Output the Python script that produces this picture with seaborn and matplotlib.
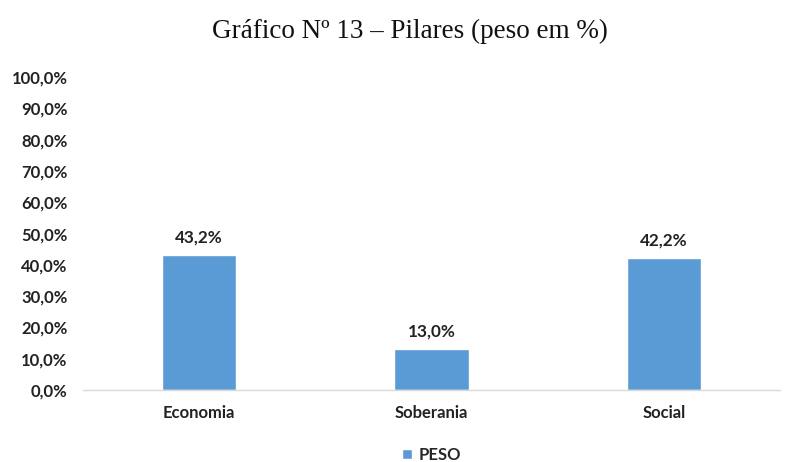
import matplotlib
matplotlib.use('Agg')
import matplotlib.pyplot as plt
import seaborn as sns
import pandas as pd

# Chart data
pilares = ['Economia', 'Soberania', 'Social']
peso = [43.2, 13.0, 42.2]
y_ticks = [0, 10, 20, 30, 40, 50, 60, 70, 80, 90, 100]

df = pd.DataFrame({'Pilar': pilares, 'PESO': peso})

sns.set_style('white')
plt.rcParams['font.family'] = ['Lato', 'DejaVu Sans']

fig = plt.figure(figsize=(7.88, 4.62), dpi=100)
ax = fig.add_axes([0.105, 0.156, 0.885, 0.677])

sns.barplot(data=df, x='Pilar', y='PESO', color='#5B9BD5', width=0.32,
            saturation=1, ax=ax, label='PESO')

def fmt(v):
    return f'{v:.1f}'.replace('.', ',') + '%'

for i, v in enumerate(peso):
    ax.text(i, v + 3, fmt(v), ha='center', va='bottom',
            fontsize=12.3, fontweight='bold', color='#222222')

ax.set_ylim(0, 100)
ax.set_yticks(y_ticks)
ax.set_yticklabels([fmt(t) for t in y_ticks], fontsize=12, fontweight='bold', color='#222222')
ax.set_xticks(range(len(pilares)))
ax.set_xticklabels(pilares, fontsize=12, fontweight='bold', color='#222222')
ax.tick_params(axis='x', length=0, pad=11)
ax.tick_params(axis='y', length=0, pad=11)
ax.set_xlabel('')
ax.set_ylabel('')

for s in ['top', 'right', 'left']:
    ax.spines[s].set_visible(False)
ax.spines['bottom'].set_color('#D9D9D9')
ax.spines['bottom'].set_linewidth(1)

fig.suptitle('Gráfico Nº 13 – Pilares (peso em %)', x=0.52, y=0.96,
             fontsize=19.5, family='Liberation Serif', color='#111111')

leg = ax.legend(loc='upper center', bbox_to_anchor=(0.5, -0.15), frameon=False,
                handlelength=0.6, handleheight=0.6, handletextpad=0.4,
                borderpad=0.1, prop={'weight': 'bold', 'size': 12})

fig.savefig('out.png', dpi=100)
